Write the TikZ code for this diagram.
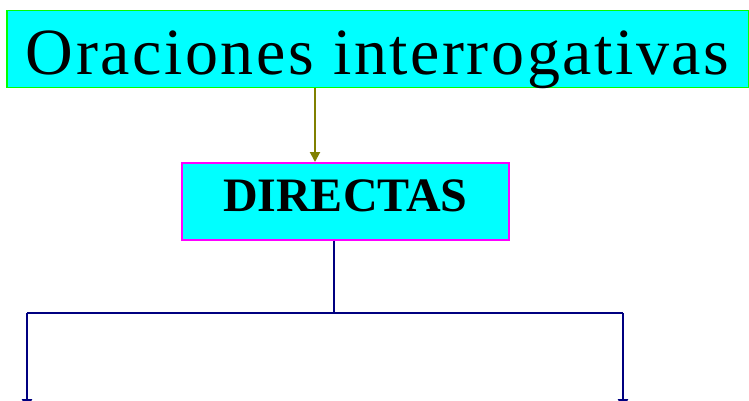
\documentclass[tikz,border=0pt]{standalone}
\usepackage{fontspec}
\setmainfont{Liberation Serif}
\usetikzlibrary{arrows.meta}
\definecolor{boxcyan}{HTML}{00FFFF}
\definecolor{titlegreen}{HTML}{00FF00}
\definecolor{dirmag}{HTML}{FF00FF}
\definecolor{arrolive}{HTML}{808000}
\definecolor{linenavy}{HTML}{000080}
\tikzset{
  boxnode/.style={fill=boxcyan, line width=1.5pt, inner sep=0pt, anchor=north west, align=center},
  olivearrow/.style={draw=arrolive, line width=2pt, -{Triangle[length=10pt,width=10pt]}},
  navyline/.style={draw=linenavy, line width=2.2pt},
  navyarrow/.style={draw=linenavy, line width=2.2pt, -{Triangle[length=10pt,width=10pt]}},
}
\begin{document}
\begin{tikzpicture}[x=1pt,y=-1pt]
\useasboundingbox (0,0) rectangle (749,401);
\node[boxnode, draw=titlegreen, minimum width=742pt, text height=64pt, text depth=13pt] (title) at (6,10)
  {\fontsize{66}{70}\selectfont\addfontfeature{LetterSpace=3.9}Oraciones interrogativas};
\node[boxnode, draw=dirmag, minimum width=327pt, text height=49pt, text depth=28pt] (dirs) at (181,162)
  {\fontsize{48}{52}\selectfont\bfseries DIRECTAS};
\coordinate (ax) at (315,0);
\coordinate (bx) at (334,0);
\coordinate (junc) at (334,313);
\coordinate (lt) at (27,313);
\coordinate (rt) at (623,313);
\coordinate (lb) at (27,409);
\coordinate (rb) at (623,409);
\draw[olivearrow] (title.south -| ax) -- (dirs.north -| ax);
\draw[navyline] (dirs.south -| bx) -- (junc);
\draw[navyline] (lt) -- (rt);
\draw[navyarrow] (lt) -- (lb);
\draw[navyarrow] (rt) -- (rb);
\end{tikzpicture}
\end{document}
